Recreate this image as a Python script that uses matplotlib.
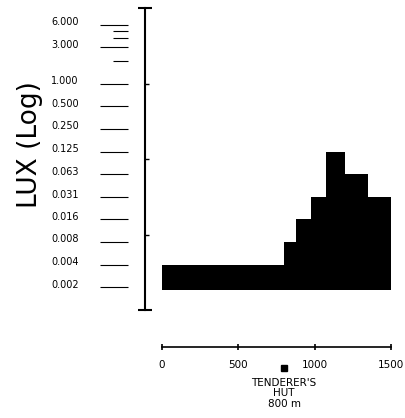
import numpy as np
import matplotlib
matplotlib.use('Agg')
import matplotlib.pyplot as plt
from matplotlib.ticker import FixedLocator, NullFormatter
from matplotlib.transforms import ScaledTranslation

plt.rcParams['font.family'] = ['DejaVu Sans']

# distance along transect (m) and light level (lux) per step
edges = [0, 800, 875, 975, 1075, 1200, 1350, 1500]
lux = [0.004, 0.008, 0.016, 0.031, 0.125, 0.063, 0.031]
base_lux = 0.00185

# scale marks beside the axis
scale_vals = [6, 3, 1, 0.5, 0.25, 0.125, 0.063, 0.031, 0.016, 0.008, 0.004, 0.002]
scale_labels = ['6.000', '3.000', '1.000', '0.500', '0.250', '0.125', '0.063',
                '0.031', '0.016', '0.008', '0.004', '0.002']
scale_minor = [5, 4, 2]

x_ticks = [0, 500, 1000, 1500]
hut_x = 800
hut_text = "TENDERER'S\nHUT\n800 m"

fig = plt.figure(figsize=(4.05, 4.18), dpi=100)
ax = fig.add_axes([145 / 405, 1 - 347 / 418, 255 / 405, 339 / 418])

ax.stairs(lux, edges, baseline=base_lux, fill=True, color='black')

ax.set_yscale('log')
ax.set_xlim(-111.4, 1559)
ax.set_ylim(0.000324, 10)

for s in ['top', 'right']:
    ax.spines[s].set_visible(False)
ax.spines['left'].set_bounds(0.001, 10)
ax.spines['left'].set_linewidth(1.5)
ax.spines['bottom'].set_bounds(0, 1500)
ax.spines['bottom'].set_linewidth(1.2)

# decade ticks on the axis, caps at the ends
ax.yaxis.set_major_locator(FixedLocator([0.01, 0.1, 1]))
ax.yaxis.set_minor_locator(FixedLocator([0.001, 10]))
ax.yaxis.set_major_formatter(NullFormatter())
ax.yaxis.set_minor_formatter(NullFormatter())
ax.tick_params(axis='y', which='major', direction='in', length=3, width=1)
ax.tick_params(axis='y', which='minor', direction='inout', length=10, width=1.5)

ax.set_xticks(x_ticks)
ax.set_xticklabels([str(v) for v in x_ticks])
ax.tick_params(axis='x', direction='inout', length=5, width=1.2, pad=6.5,
               labelsize=7.5)

# dashes and values to the left
sec = ax.secondary_yaxis(-0.0667)
sec.spines['left'].set_visible(False)
sec.set_yticks(scale_vals, scale_labels)
sec.set_yticks(scale_minor, minor=True)
sec.yaxis.set_minor_formatter(NullFormatter())
sec.tick_params(axis='y', which='major', direction='out', length=20, width=0.8,
                pad=15.5, labelsize=7)
sec.tick_params(axis='y', which='minor', direction='out', length=11, width=0.8)
shift = ScaledTranslation(0, 2.5 / 72, fig.dpi_scale_trans)
for lab in sec.get_yticklabels():
    lab.set_transform(lab.get_transform() + shift)

# tenderer's hut
ax.plot([hut_x], [-0.062], marker='s', color='black', markersize=5,
        transform=ax.get_xaxis_transform(), clip_on=False)
ax.text(hut_x, -0.09, hut_text, transform=ax.get_xaxis_transform(),
        ha='center', va='top', fontsize=7.5, linespacing=1.1)

fig.text(30 / 405, 1 - 145 / 418, 'LUX (Log)', rotation=90, ha='center',
         va='center', fontsize=19)

fig.savefig('out.png', dpi=100)
